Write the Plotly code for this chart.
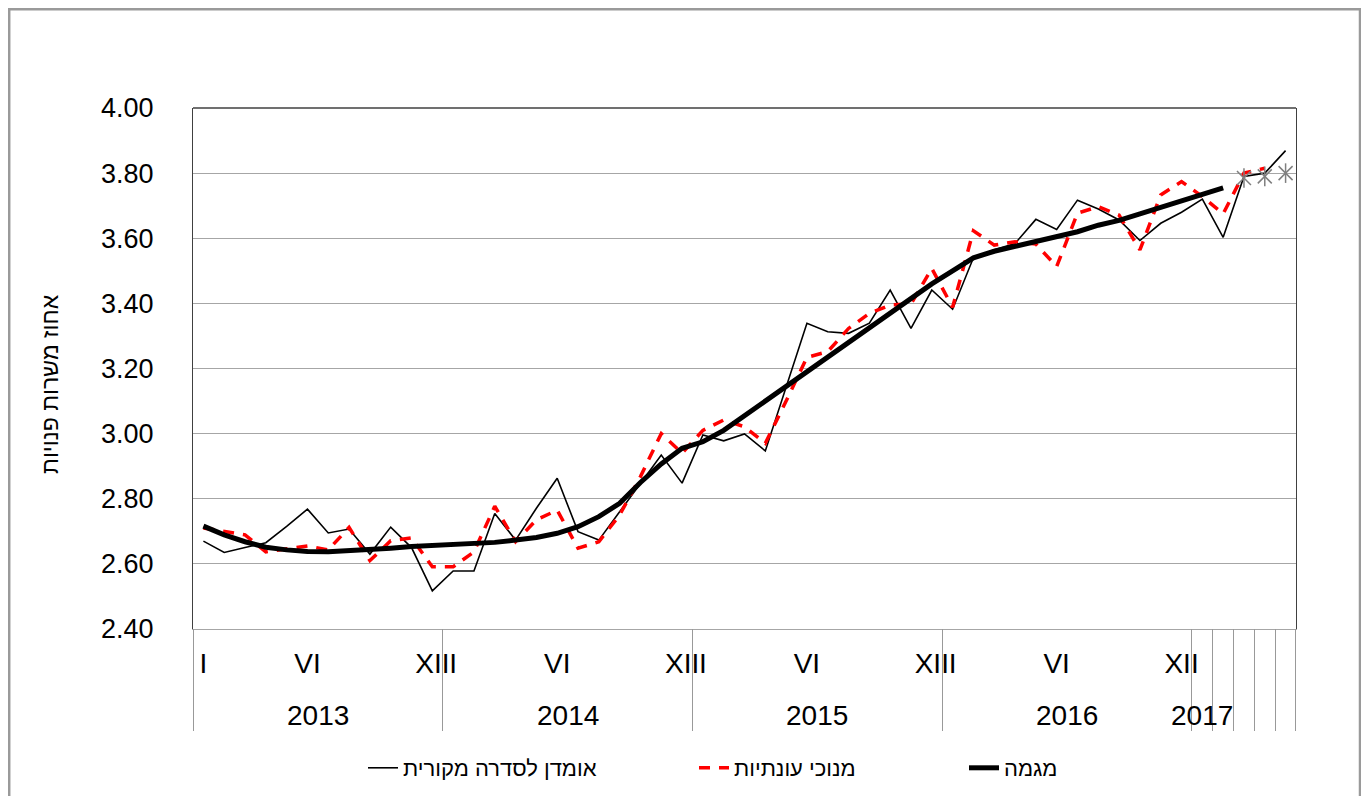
import plotly.graph_objects as go

# ---------------- data ----------------
YEARS = ["2013", "2014", "2015", "2016"]
MONTH_TICKS = ["I", "", "", "", "", "VI", "", "", "", "", "", "XII"]
LAST_YEAR = "2017"
LAST_YEAR_MONTHS = 5

original = [
    2.670, 2.635, 2.650, 2.665, 2.715, 2.768, 2.695, 2.707, 2.630, 2.713, 2.650, 2.517,
    2.578, 2.578, 2.755, 2.673, 2.771, 2.863, 2.699, 2.673, 2.760, 2.847, 2.934, 2.848,
    2.996, 2.978, 2.999, 2.947, 3.143, 3.339, 3.313, 3.308, 3.339, 3.441, 3.323, 3.441,
    3.382, 3.540, 3.565, 3.584, 3.658, 3.627, 3.717, 3.690, 3.656, 3.593, 3.646, 3.680,
    3.720, 3.603, 3.790, 3.800, 3.869,
]
seasonally_adjusted = [
    2.710, 2.700, 2.689, 2.637, 2.645, 2.655, 2.643, 2.712, 2.610, 2.671, 2.680, 2.591,
    2.591, 2.637, 2.777, 2.668, 2.735, 2.765, 2.648, 2.668, 2.750, 2.868, 3.000, 2.940,
    3.010, 3.042, 3.021, 2.970, 3.100, 3.234, 3.252, 3.323, 3.369, 3.395, 3.398, 3.507,
    3.388, 3.623, 3.579, 3.589, 3.582, 3.513, 3.677, 3.697, 3.671, 3.564, 3.733, 3.774,
    3.728, 3.675, 3.800, 3.815,
]
trend = [
    2.716, 2.689, 2.668, 2.651, 2.643, 2.638, 2.637, 2.640, 2.645, 2.648, 2.653, 2.656,
    2.658, 2.662, 2.666, 2.673, 2.681, 2.694, 2.714, 2.745, 2.786, 2.850, 2.907, 2.955,
    2.975, 3.010, 3.055, 3.100, 3.145, 3.190, 3.235, 3.280, 3.325, 3.370, 3.415, 3.460,
    3.500, 3.540, 3.560, 3.575, 3.590, 3.605, 3.620, 3.640, 3.655, 3.675, 3.695, 3.715,
    3.735, 3.755,
]
recent_trend = [3.785, 3.790, 3.800]   # last three months (star markers)

Y_TICKS = [2.4, 2.6, 2.8, 3.0, 3.2, 3.4, 3.6, 3.8, 4.0]

NAME_ORIG = "אומדן לסדרה מקורית"
NAME_SA = "מנוכי עונתיות"
NAME_TREND = "מגמה"
Y_TITLE = "אחוז משרות פנויות"

# ---------------- month positions / axis structure ----------------
N = len(YEARS) * len(MONTH_TICKS) + LAST_YEAR_MONTHS
month_idx = list(range(N))
tick_labels = MONTH_TICKS * len(YEARS) + [""] * LAST_YEAR_MONTHS
tickvals = [i for i, t in enumerate(tick_labels) if t]
ticktext = [t for t in tick_labels if t]

# group boundaries (years, then every month of the last year) and year label centres
boundaries = [-0.5]
year_centres = []
for yr in YEARS:
    year_centres.append((yr, boundaries[-1] + len(MONTH_TICKS) / 2))
    boundaries.append(boundaries[-1] + len(MONTH_TICKS))
year_centres.append((LAST_YEAR, boundaries[-1] + 0.5))
for _ in range(LAST_YEAR_MONTHS):
    boundaries.append(boundaries[-1] + 1)

FONT = "Liberation Sans, Arial, DejaVu Sans, sans-serif"

OFF = 8                      # page offset of the figure (body margin)
W, H = 1361, 788
L, R, T, B = 185, 73, 100, 167
pw, ph = W - L - R, H - T - B

def px_x(page_px):
    return (page_px - OFF - L) / pw

def px_y(page_py):
    return 1 - (page_py - OFF - T) / ph

X0, X1 = -0.5, N - 0.5

def boundary_paper_x(v):
    pix = L + (v - X0) / (X1 - X0) * pw
    pix = min(max(round(pix - 0.5) + 0.5, L + 0.5), L + pw - 0.5)   # crisp 1px line
    return (pix - L) / pw

fig = go.Figure()
fig.add_trace(go.Scatter(
    x=month_idx[:len(original)], y=original, mode="lines", name=NAME_ORIG, legend="legend",
    line=dict(color="black", width=1.6),
))
fig.add_trace(go.Scatter(
    x=month_idx[:len(seasonally_adjusted)], y=seasonally_adjusted, mode="lines", name=NAME_SA,
    legend="legend2",
    line=dict(color="#ff0000", width=3.5, dash="11px,9px"),
))
fig.add_trace(go.Scatter(
    x=month_idx[:len(trend)], y=trend, mode="lines", name=NAME_TREND, legend="legend3",
    line=dict(color="black", width=5),
))
start = N - len(recent_trend)
for sym in ("x-thin-open", "line-ns-open"):
    fig.add_trace(go.Scatter(
        x=month_idx[start:], y=recent_trend, mode="markers", showlegend=False,
        marker=dict(symbol=sym, size=14, color="#7f7f7f", line=dict(color="#7f7f7f", width=1.5)),
    ))

def legend_at(fig_px):
    return dict(
        orientation="h", xref="container", yref="container",
        x=fig_px / W, xanchor="left", y=1 - (768 - OFF) / H, yanchor="middle",
        font=dict(size=22, family=FONT, color="black"),
        bgcolor="rgba(0,0,0,0)", borderwidth=0,
    )

shapes = [
    dict(type="line", xref="paper", yref="paper", x0=0, x1=1, y0=1, y1=1,
         line=dict(color="#404040", width=1.3)),
    dict(type="rect", xref="paper", yref="paper",
         x0=px_x(9.2), x1=px_x(1360), y0=px_y(9.2), y1=px_y(820),
         line=dict(color="#9a9a9a", width=2.5), layer="below"),
]
for bnd in boundaries:
    xp = boundary_paper_x(bnd)
    shapes.append(dict(type="line", xref="paper", yref="paper", x0=xp, x1=xp,
                       y0=0, y1=px_y(731), line=dict(color="#999999", width=1)))

annotations = [
    dict(text=Y_TITLE, xref="paper", yref="paper", x=px_x(50), y=px_y(384),
         showarrow=False, textangle=-90, font=dict(size=23, family=FONT, color="black"),
         xanchor="center", yanchor="middle"),
]
for label, centre in year_centres:
    annotations.append(dict(text=label, xref="x", yref="paper", x=centre, y=px_y(715),
                            showarrow=False, xanchor="center", yanchor="middle",
                            font=dict(size=28, family=FONT, color="black")))

fig.update_layout(
    width=W, height=H,
    margin=dict(l=L, r=R, t=T, b=B, autoexpand=False),
    paper_bgcolor="white", plot_bgcolor="white",
    font=dict(family=FONT, color="black"),
    showlegend=True,
    legend=legend_at(355),
    legend2=legend_at(686),
    legend3=legend_at(956),
    xaxis=dict(
        range=[X0, X1], automargin=False,
        tickmode="array", tickvals=tickvals, ticktext=ticktext, tickangle=0,
        showgrid=False, zeroline=False, ticks="", ticklabelstandoff=9,
        showline=True, linecolor="#a6a6a6", linewidth=1,
        tickfont=dict(size=28, family=FONT, color="black"),
    ),
    yaxis=dict(
        range=[2.4, 4.0], tickvals=Y_TICKS, tickformat=".2f", automargin=False,
        showgrid=True, gridcolor="#a6a6a6", gridwidth=1, zeroline=False,
        showline=True, mirror=True, linecolor="#404040", linewidth=1.3,
        ticks="", ticklabelstandoff=33,
        tickfont=dict(size=27, family=FONT, color="black"),
    ),
    shapes=shapes,
    annotations=annotations,
)

fig.write_html("out.html")
